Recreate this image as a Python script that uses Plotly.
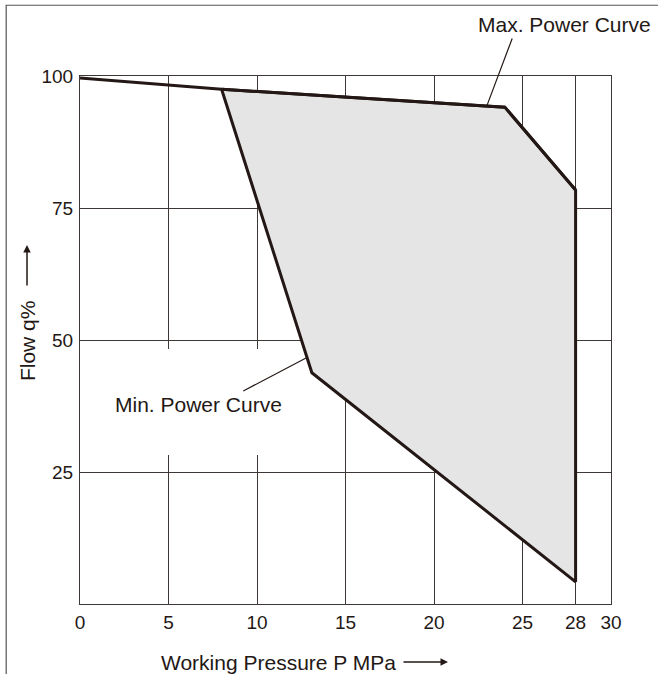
import plotly.graph_objects as go

# ---- data ----
max_curve_p = [0, 8, 24, 28]
max_curve_q = [99.6, 97.5, 94.1, 78.4]
region_p = [8, 24, 28, 28, 13.1, 8]
region_q = [97.5, 94.1, 78.4, 4.2, 43.8, 97.5]
x_ticks = [0, 5, 10, 15, 20, 25, 28, 30]
y_ticks = [25, 50, 75, 100]
x_range = [0, 30]
y_range = [0, 100]

FONT = "Liberation Sans, Arial, sans-serif"
INK = "#231815"
GRID = "#3d3835"


def px(v):
    return (v - x_range[0]) / (x_range[1] - x_range[0])


def py(v):
    return (v - y_range[0]) / (y_range[1] - y_range[0])


fig = go.Figure()

# shaded operating region
fig.add_trace(go.Scatter(
    x=region_p, y=region_q, mode="lines", fill="toself",
    fillcolor="#e5e5e5", line=dict(color=INK, width=3),
    hoverinfo="skip", showlegend=False))
# max power curve (left part outside region)
fig.add_trace(go.Scatter(
    x=max_curve_p, y=max_curve_q, mode="lines",
    line=dict(color=INK, width=3), hoverinfo="skip", showlegend=False))

fig.update_layout(
    width=658, height=674,
    margin=dict(l=80, r=47, t=76, b=70),
    paper_bgcolor="white", plot_bgcolor="white",
    font=dict(family=FONT, size=19, color=INK),
    showlegend=False,
    xaxis=dict(range=x_range, tickvals=x_ticks, ticktext=[str(v) for v in x_ticks],
               showgrid=True, gridcolor=GRID, gridwidth=1, zeroline=False,
               showline=True, linecolor=GRID, linewidth=1, mirror=True,
               ticks="outside", ticklen=1, tickcolor="rgba(0,0,0,0)",
               tickfont=dict(size=19, family=FONT, color=INK)),
    yaxis=dict(range=y_range, tickvals=y_ticks, ticktext=[str(v) for v in y_ticks],
               showgrid=True, gridcolor=GRID, gridwidth=1, zeroline=False,
               showline=True, linecolor=GRID, linewidth=1, mirror=True,
               ticks="outside", ticklen=2, tickcolor="rgba(0,0,0,0)",
               tickfont=dict(size=19, family=FONT, color=INK)),
)

# white patch behind "Min. Power Curve" label (hides grid lines)
fig.add_shape(type="rect", xref="x", yref="y", x0=1.6, x1=12.0, y0=28.2, y1=48.3,
              fillcolor="white", line=dict(width=0), layer="between")

# outer frame (left + top edges)
fig.add_shape(type="path", xref="paper", yref="paper",
              path="M -0.139,-0.3 L -0.139,1.134 L 1.2,1.134",
              line=dict(color="#555555", width=1.2))

# curve labels
fig.add_annotation(x=px(27.4), y=py(109.7), xref="paper", yref="paper",
                   text="Max. Power Curve", showarrow=False,
                   xanchor="center", yanchor="middle",
                   font=dict(size=21, family=FONT, color=INK))
fig.add_annotation(x=px(6.67), y=py(37.7), xref="paper", yref="paper",
                   text="Min. Power Curve", showarrow=False,
                   xanchor="center", yanchor="middle",
                   font=dict(size=21, family=FONT, color=INK))
# leader lines
fig.add_annotation(x=22.98, y=94.3, xref="x", yref="y", ax=24.45, ay=107.4,
                   axref="x", ayref="y", text="", showarrow=True, arrowhead=0,
                   arrowwidth=1.2, arrowcolor=INK)
fig.add_annotation(x=12.77, y=46.6, xref="x", yref="y", ax=9.14, ay=40.2,
                   axref="x", ayref="y", text="", showarrow=True, arrowhead=0,
                   arrowwidth=1.2, arrowcolor=INK)

# axis titles
fig.add_annotation(x=0.373, y=-0.11, xref="paper", yref="paper",
                   text="Working Pressure P MPa", showarrow=False,
                   xanchor="center", yanchor="middle",
                   font=dict(size=21, family=FONT, color=INK))
fig.add_annotation(x=0.693, y=-0.11, xref="paper", yref="paper",
                   ax=-46, ay=0, text="", showarrow=True, arrowhead=2,
                   arrowsize=1, arrowwidth=1.5, arrowcolor=INK)
fig.add_annotation(x=-0.0998, y=0.498, xref="paper", yref="paper",
                   text="Flow q%", textangle=-90, showarrow=False,
                   xanchor="center", yanchor="middle",
                   font=dict(size=21, family=FONT, color=INK))
fig.add_annotation(x=-0.0998, y=0.680, xref="paper", yref="paper",
                   ax=0, ay=42, text="", showarrow=True, arrowhead=2,
                   arrowsize=1, arrowwidth=1.5, arrowcolor=INK)

fig.write_html("out.html", config={"displayModeBar": False},
               post_script="document.body.style.margin='0';")
